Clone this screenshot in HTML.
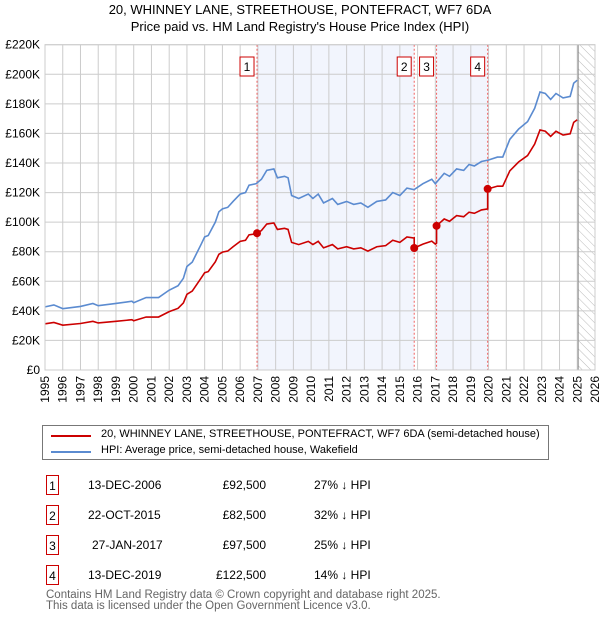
<!DOCTYPE html>
<html><head><meta charset="utf-8"><style>
body{margin:0;background:#fff;font-family:"Liberation Sans","DejaVu Sans",sans-serif;}
#wrap{position:relative;width:600px;height:620px;overflow:hidden}
.t{position:absolute;font-size:12px;color:#000;white-space:nowrap}
.bx{position:absolute;width:13px;height:20px;border:1px solid #c00;font-size:12px;text-align:center;line-height:20px;box-sizing:border-box}
</style></head><body><div id="wrap">
<div class="t" style="left:0;width:600px;text-align:center;top:2px;font-size:13px">20, WHINNEY LANE, STREETHOUSE, PONTEFRACT, WF7 6DA</div>
<div class="t" style="left:0;width:600px;text-align:center;top:19px;font-size:13px">Price paid vs. HM Land Registry's House Price Index (HPI)</div>
<svg id="ch" width="600" height="420" style="position:absolute;left:0;top:0">
<defs><pattern id="hatch" width="6" height="6" patternUnits="userSpaceOnUse" patternTransform="rotate(-45)"><line x1="0" y1="0" x2="0" y2="6" stroke="#bbb" stroke-width="1"/></pattern></defs>
</svg>
<div style="position:absolute;left:42px;top:425px;width:507px;height:35px;border:1px solid #777;box-sizing:border-box">
<div style="position:absolute;left:8px;top:9px;width:40px;height:2px;background:#c00"></div>
<div class="t" style="left:58px;top:2px;font-size:11px">20, WHINNEY LANE, STREETHOUSE, PONTEFRACT, WF7 6DA (semi-detached house)</div>
<div style="position:absolute;left:8px;top:25px;width:40px;height:2px;background:#5b8bd0"></div>
<div class="t" style="left:58px;top:18px;font-size:11px">HPI: Average price, semi-detached house, Wakefield</div>
</div>
<div id="tbl"></div>
<div class="t" style="left:46px;top:589px;color:#666;font-size:11.5px">Contains HM Land Registry data © Crown copyright and database right 2025.</div>
<div class="t" style="left:46px;top:600px;color:#666;font-size:11.5px">This data is licensed under the Open Government Licence v3.0.</div>
</div>
<script>
const hpiYears=[1995,1995.5,1996,1997,1997.7,1998,1999,1999.9,2000,2000.7,2001.4,2002,2002.5,2002.8,2003,2003.3,2003.8,2004,2004.2,2004.6,2004.8,2005,2005.3,2005.6,2006,2006.3,2006.5,2006.9,2007.2,2007.5,2007.9,2008.1,2008.5,2008.7,2008.9,2009.3,2009.84,2010.1,2010.4,2010.7,2011.2,2011.5,2012,2012.4,2012.8,2013.2,2013.7,2014.2,2014.6,2015,2015.4,2015.8,2016.3,2016.8,2017,2017.5,2017.8,2018.2,2018.6,2018.9,2019.2,2019.6,2020,2020.5,2020.8,2021.2,2021.7,2022.2,2022.6,2022.9,2023.2,2023.5,2023.8,2024.2,2024.6,2024.8,2025.0];
const hpiValues=[42.7,44,41.5,43,45,43.5,45,46.5,45.5,49,49,54,57,62,70,73,85,90,91,100,107,109,110,114,119,120,125,126,129,135,136,130,131,130,118,116,119,116,119,113,116,112,114,112,113,110,114,115,120,118,123,122,126,129,126,133,131,136,135,139,138,141,142,144,144,156,163,168,177,188,187,183,187,184,185,194,196];
const saleDates=[2006.95,2015.81,2017.07,2019.95];
const salePrices=[92.5,82.5,97.5,122.5];
const saleLabels=["13-DEC-2006","22-OCT-2015","27-JAN-2017","13-DEC-2019"];
const salePriceText=["£92,500","£82,500","£97,500","£122,500"];
const saleDiffText=["27% ↓ HPI","32% ↓ HPI","25% ↓ HPI","14% ↓ HPI"];
const yTicks=[0,20,40,60,80,100,120,140,160,180,200,220];
const xTicks=[];for(let y=1995;y<=2026;y++)xTicks.push(y);

const L=45,R=595,T=44.7,B=370;
const X=y=>L+(y-1995)/31*(R-L);
const Y=v=>B-v/220*(B-T);
const NS="http://www.w3.org/2000/svg";
const svg=document.getElementById('ch');
function mk(tag,at,parent){const e=document.createElementNS(NS,tag);for(const k in at)e.setAttribute(k,at[k]);(parent||svg).appendChild(e);return e;}
function hpiAt(t){for(let i=1;i<hpiYears.length;i++){if(t<=hpiYears[i]){const a=hpiYears[i-1],b=hpiYears[i];return hpiValues[i-1]+(hpiValues[i]-hpiValues[i-1])*(t-a)/(b-a);}}return hpiValues[hpiValues.length-1];}

let e;
e=mk('rect',{x:X(saleDates[0]),y:T,width:X(saleDates[1])-X(saleDates[0]),height:B-T,fill:'#f2f5fd'});

e=mk('rect',{x:X(saleDates[2]),y:T,width:X(saleDates[3])-X(saleDates[2]),height:B-T,fill:'#f2f5fd'});

e=mk('rect',{x:X(2025.05),y:T,width:R-X(2025.05),height:B-T,fill:'url(#hatch)'});

yTicks.forEach(v=>{
 e=mk('line',{x1:L,x2:R,y1:Y(v),y2:Y(v),stroke:'#ccc','stroke-width':1});
 
 e=mk('text',{x:L-5,y:Y(v)+4,'text-anchor':'end','font-size':12,fill:'#000'});e.textContent=v===0?'£0':'£'+v+'K';
 
});
xTicks.forEach(y=>{
 e=mk('line',{x1:X(y),x2:X(y),y1:T,y2:B,stroke:'#ccc','stroke-width':1});
 
 e=mk('text',{x:0,y:0,'text-anchor':'end','font-size':12,fill:'#000',transform:`translate(${X(y)+4},${B+6}) rotate(-90)`});e.textContent=y;
 
});
e=mk('line',{x1:X(2025.05),x2:X(2025.05),y1:T,y2:B,stroke:'#888','stroke-width':1});

saleDates.forEach((d,i)=>{
 e=mk('line',{x1:X(d),x2:X(d),y1:T,y2:B,stroke:'#f06060','stroke-width':1,'stroke-dasharray':'2,2'});
 
 const g=mk('g',{});
 
 mk('rect',{x:X(d)-17,y:57,width:14,height:19,fill:'#fff',stroke:'#c00'},g);
 const tx=mk('text',{x:X(d)-10,y:71,'text-anchor':'middle','font-size':12},g);tx.textContent=i+1;
});
e=mk('polyline',{points:hpiYears.map((t,i)=>X(t)+','+Y(hpiValues[i])).join(' '),fill:'none',stroke:'#5b8bd0','stroke-width':1.6});

const factors=saleDates.map((d,i)=>salePrices[i]/hpiAt(d));
function factorAt(t){let f=factors[0];for(let i=0;i<saleDates.length;i++)if(t>=saleDates[i])f=factors[i];return f;}
let pts=[];
hpiYears.forEach((t,i)=>{
 saleDates.forEach((d,j)=>{if(j>0&&d>(i?hpiYears[i-1]:0)&&d<=t){pts.push([d,hpiAt(d)*factors[j-1]]);pts.push([d,salePrices[j]]);}});
 pts.push([t,hpiValues[i]*factorAt(t)]);
});
e=mk('polyline',{points:pts.map(p=>X(p[0])+','+Y(p[1])).join(' '),fill:'none',stroke:'#c00','stroke-width':1.6});

saleDates.forEach((d,i)=>{
 e=mk('circle',{cx:X(d),cy:Y(salePrices[i]),r:4,fill:'#c00'});
 
});
e=mk('rect',{x:L,y:T,width:R-L,height:B-T,fill:'none',stroke:'#ccc'});

const tbl=document.getElementById('tbl');
saleLabels.forEach((s,i)=>{
 const top=475+i*30;
 const b=document.createElement('div');b.className='bx';b.style.left='46px';b.style.top=top+'px';b.textContent=i+1;
 
 
 tbl.appendChild(b);
 const c=[[s,88,'left'],[salePriceText[i],0,'right'],[saleDiffText[i],314,'left']];
 c.forEach((cc,k)=>{
  const d=document.createElement('div');d.className='t';d.style.top=(top+3)+'px';
  if(k===1){d.style.right=(600-266)+'px';}else d.style.left=(cc[1]+(i===2&&k===0?4:0))+'px';
  d.textContent=cc[0];
  
  
  tbl.appendChild(d);
 });
});
</script></body></html>
